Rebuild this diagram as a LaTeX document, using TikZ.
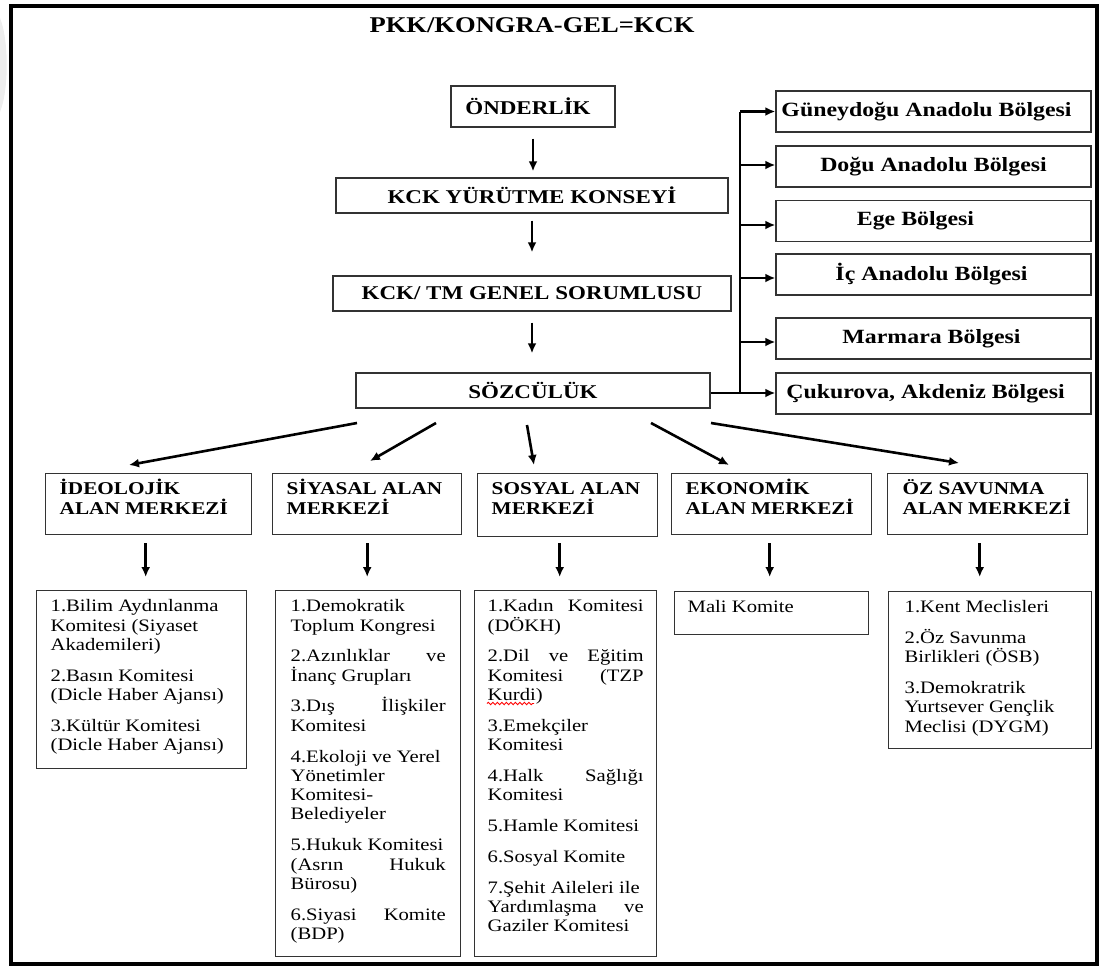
\documentclass[tikz,border=0pt]{standalone}
\usepackage{fontspec}
\setmainfont{Liberation Serif}[FakeStretch=1.18]
\usetikzlibrary{arrows.meta,calc,decorations.pathmorphing}

\newcommand{\bodyf}{\fontsize{17.5pt}{19.3pt}\selectfont}
\newcommand{\headf}{\fontsize{18pt}{20pt}\selectfont\bfseries}
\newcommand{\boxf}{\fontsize{19.5pt}{22pt}\selectfont\bfseries}
\newcommand{\regf}{\fontsize{20.2pt}{22pt}\selectfont\bfseries}
\newcommand{\jl}[1]{\makebox[\linewidth][s]{#1}}
\newcommand{\pl}[1]{\mbox{#1}}
\newcommand{\lst}[3]{\parbox[t][#1][t]{#2}{\raggedright\rule{0pt}{21pt}#3}}

\tikzset{
  frameline/.style={draw=black, line width=4pt},
  mainbox/.style={draw=black!80, line width=1.4pt, font=\boxf, inner sep=0pt},
  regbox/.style={draw=black!80, line width=1.4pt, font=\regf, inner sep=0pt,
                 minimum width=315pt, minimum height=41pt},
  headbox/.style={draw=black!80, line width=1.4pt, anchor=north west, inner ysep=0pt, font=\headf},
  listbox/.style={draw=black!80, line width=1.4pt, anchor=north west, inner ysep=0pt, font=\bodyf},
  arr/.style={line width=2.6pt, -{Latex[length=10pt,width=9pt]}},
  trunkline/.style={line width=2.6pt},
}

\begin{document}
\begin{tikzpicture}[x=1pt,y=-1pt]
\useasboundingbox (0,0) rectangle (1101,969);
\fill[black!7] (0,18) .. controls (9,40) and (9,90) .. (0,112) -- cycle;
\draw[frameline] (10.5,5.5) rectangle (1097,964);

\node[font=\fontsize{22.5pt}{26pt}\selectfont\bfseries] (title) at (532,25) {PKK/KONGRA-GEL=KCK};

% main chain
\node[mainbox, minimum width=164pt, minimum height=41pt] (ond) at (533,106.5) {ÖNDERLİK\hspace*{10pt}};
\node[mainbox, minimum width=392pt, minimum height=35pt] (kck) at (532,195.5) {KCK YÜRÜTME KONSEYİ};
\node[mainbox, minimum width=398pt, minimum height=35pt] (tm) at (532,293.5) {KCK/ TM GENEL SORUMLUSU};
\node[mainbox, minimum width=354pt, minimum height=35pt] (soz) at (533,390.5) {SÖZCÜLÜK};

\draw[arr, shorten <=11pt, shorten >=6pt] (ond.south) -- (ond.south |- kck.north);
\draw[arr, shorten <=7pt, shorten >=23pt] (kck.south) -- (kck.south |- tm.north);
\draw[arr, shorten <=11pt, shorten >=19pt] (tm.south) -- (tm.south |- soz.north);

% regions
\node[regbox] (gun) at (933.5,111.5) {Güneydoğu Anadolu Bölgesi\hspace*{14pt}};
\node[regbox] (dog) at (933.5,166.5) {Doğu Anadolu Bölgesi};
\node[regbox] (ege) at (933.5,221) {Ege Bölgesi\hspace*{36pt}};
\node[regbox] (ic)  at (933.5,274.5) {İç Anadolu Bölgesi\hspace*{4pt}};
\node[regbox] (mar) at (933.5,338.5) {Marmara Bölgesi\hspace*{4pt}};
\node[regbox] (cuk) at (933.5,393.5) {Çukurova, Akdeniz Bölgesi\hspace*{16pt}};

\coordinate (trunk) at (740,0);
\draw[trunkline] (trunk |- cuk.west) -- (trunk |- gun.west);
\draw[arr] ($(soz.east)+(0,2.5)$) -- ($(soz.east -| cuk.west)+(0,2.5)$);
\draw[arr] (trunk |- gun.west) -- (gun.west);
\draw[arr] ($(trunk |- dog.west)+(0,-1.5)$) -- ($(dog.west)+(0,-1.5)$);
\draw[arr] ($(trunk |- ege.west)+(0,4)$) -- ($(ege.west)+(0,4)$);
\draw[arr] ($(trunk |- ic.west)+(0,3.5)$) -- ($(ic.west)+(0,3.5)$);
\draw[arr] ($(trunk |- mar.west)+(0,3.5)$) -- ($(mar.west)+(0,3.5)$);

% centre headings
\node[headbox, inner xsep=14pt] (ideo) at (45,473) {\lst{61pt}{178pt}{\pl{İDEOLOJİK}\\ \pl{ALAN MERKEZİ}}};
\node[headbox, inner xsep=14pt] (siy) at (272,473) {\lst{61pt}{161pt}{\pl{SİYASAL ALAN}\\ \pl{MERKEZİ}}};
\node[headbox, inner xsep=14pt] (sos) at (477,473) {\lst{63pt}{152pt}{\pl{SOSYAL ALAN}\\ \pl{MERKEZİ}}};
\node[headbox, inner xsep=14pt] (eko) at (671,473) {\lst{61pt}{172pt}{\pl{EKONOMİK}\\ \pl{ALAN MERKEZİ}}};
\node[headbox, inner xsep=15pt] (oz) at (887,473) {\lst{61pt}{170pt}{\pl{ÖZ SAVUNMA}\\ \pl{ALAN MERKEZİ}}};

% diagonal arrows from SÖZCÜLÜK
\coordinate (d1s) at (357,423); \coordinate (d1e) at (129,465);
\coordinate (d2s) at (436,423); \coordinate (d2e) at (370,461);
\coordinate (d3s) at (527,425); \coordinate (d3e) at (534,465);
\coordinate (d4s) at (651,423); \coordinate (d4e) at (729,465);
\coordinate (d5s) at (711,423); \coordinate (d5e) at (959,463);
\draw[arr] (d1s) -- (d1e);
\draw[arr] (d2s) -- (d2e);
\draw[arr] (d3s) -- (d3e);
\draw[arr] (d4s) -- (d4e);
\draw[arr] (d5s) -- (d5e);

% lists
\node[listbox, inner xsep=14pt] (ideol) at (36,590) {\lst{178pt}{182pt}{%
\pl{1.Bilim Aydınlanma}\\ \pl{Komitesi (Siyaset}\\ Akademileri)\\[11.5pt]
\pl{2.Basın Komitesi}\\ \pl{(Dicle Haber Ajansı)}\\[11.5pt]
\pl{3.Kültür Komitesi}\\ \pl{(Dicle Haber Ajansı)}}};

\node[listbox, inner xsep=15pt] (siyl) at (275,590) {\lst{366pt}{155pt}{%
\pl{1.Demokratik}\\ \pl{Toplum Kongresi}\\[11.5pt]
\jl{2.Azınlıklar ve}\\ \pl{İnanç Grupları}\\[11.5pt]
\jl{3.Dış İlişkiler}\\ Komitesi\\[11.5pt]
\pl{4.Ekoloji ve Yerel}\\ Yönetimler\\ Komitesi-\\ Belediyeler\\[11.5pt]
\pl{5.Hukuk Komitesi}\\ \jl{(Asrın Hukuk}\\ \pl{Bürosu)}\\[11.5pt]
\jl{6.Siyasi Komite}\\ \pl{(BDP)}}};

\node[listbox, inner xsep=13pt] (sosl) at (474,590) {\lst{366pt}{156pt}{%
\jl{1.Kadın Komitesi}\\ \pl{(DÖKH)}\\[11.5pt]
\jl{2.Dil ve Eğitim}\\ \jl{Komitesi (TZP}\\ \pl{Kurdi)}\\[11.5pt]
\pl{3.Emekçiler}\\ Komitesi\\[11.5pt]
\jl{4.Halk Sağlığı}\\ Komitesi\\[11.5pt]
\pl{5.Hamle Komitesi}\\[11.5pt]
\pl{6.Sosyal Komite}\\[11.5pt]
\pl{7.Şehit Aileleri ile}\\ \jl{Yardımlaşma ve}\\ \pl{Gaziler Komitesi}}};

\node[listbox, inner xsep=13pt] (mali) at (674,591) {\lst{43pt}{168pt}{\pl{Mali Komite}}};

\node[listbox, inner xsep=16pt] (ozl) at (888,591) {\lst{157pt}{171pt}{%
\pl{1.Kent Meclisleri}\\[11.5pt]
\pl{2.Öz Savunma}\\ \pl{Birlikleri (ÖSB)}\\[11.5pt]
\pl{3.Demokratrik}\\ \pl{Yurtsever Gençlik}\\ \pl{Meclisi (DYGM)}}};

% heading -> list arrows
\draw[arr, shorten <=8pt, shorten >=13pt] ([xshift=-3pt]ideo.south) -- ([xshift=-3pt]ideo.south |- ideol.north);
\draw[arr, shorten <=8pt, shorten >=13pt] (siy.south) -- (siy.south |- siyl.north);
\draw[arr, shorten <=6pt, shorten >=13pt] ([xshift=-8pt]sos.south) -- ([xshift=-8pt]sos.south |- sosl.north);
\draw[arr, shorten <=8pt, shorten >=14pt] ([xshift=-2pt]eko.south) -- ([xshift=-2pt]eko.south |- mali.north);
\draw[arr, shorten <=8pt, shorten >=14pt] ([xshift=-8pt]oz.south) -- ([xshift=-8pt]oz.south |- ozl.north);

% spell-check underline
\coordinate (w1) at ($(sosl.north west)+(13,113.5)$);
\coordinate (w2) at ($(sosl.north west)+(60,113.5)$);
\draw[red, line width=0.9pt, decorate, decoration={snake, amplitude=1.2pt, segment length=4.5pt}] (w1) -- (w2);
\end{tikzpicture}
\end{document}
